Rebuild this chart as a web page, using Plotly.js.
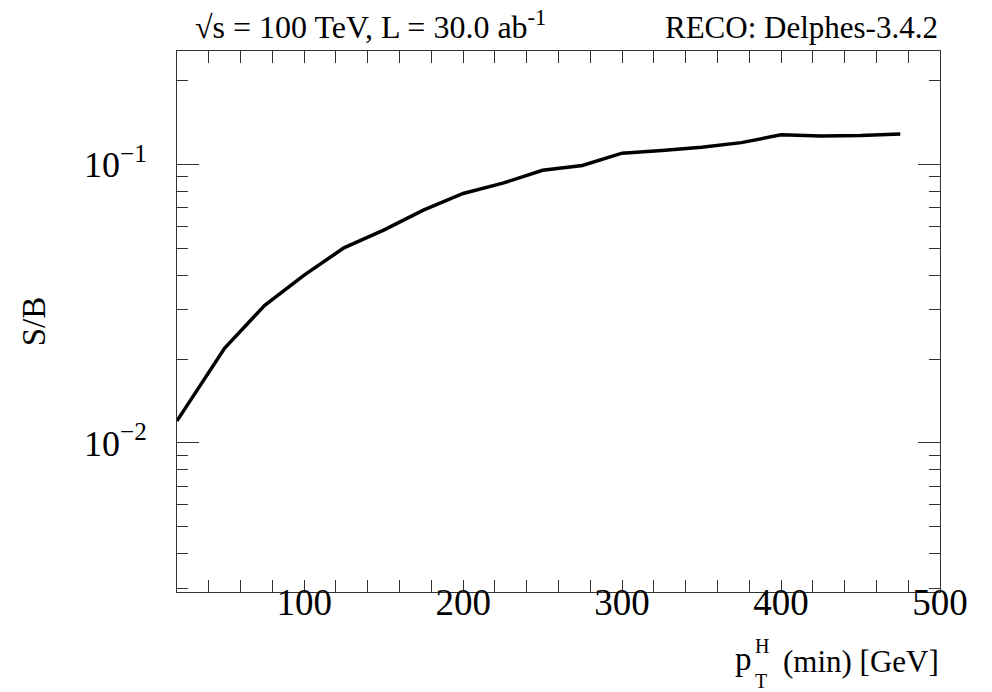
<!DOCTYPE html>
<html><head><meta charset="utf-8">
<script src="https://cdn.plot.ly/plotly-3.0.1.min.js"></script>
<style>html,body{margin:0;padding:0;background:#fff}</style>
</head><body><div id="chart" style="width:992px;height:692px"></div>
<script>
// data
const ptHmin = [20, 50, 75, 100, 125, 150, 175, 200, 225, 250, 275, 300, 325, 350, 375, 400, 425, 450, 475];
const sOverB = [0.0120, 0.0219, 0.0311, 0.0400, 0.0501, 0.0580, 0.0684, 0.0785, 0.0855, 0.0951, 0.0990, 0.1095, 0.1119, 0.1150, 0.1195, 0.1274, 0.1262, 0.1268, 0.1284];
const yTickVals = [0.01, 0.1];
const yTickText = ["10<sup>−2</sup>", "10<sup>−1</sup>"];
const xTickVals = [100, 200, 300, 400, 500];
const xTickText = ["100", "200", "300", "400", "500"];
const topLeftText = "√s = 100 TeV, L = 30.0 ab<sup>-1</sup>";
const topRightText = "RECO: Delphes-3.4.2";
const yTitle = "S/B";

const L = 177, R = 940, T = 51, B = 592, W = 992, H = 692;
const px = v => (v - L) / (R - L);
const py = v => (B - v) / (B - T);
const FONT = "Liberation Serif, Times New Roman, serif";

const yMinor = [];
for (const d of [0.001, 0.01, 0.1]) for (let k = 2; k <= 9; k++) yMinor.push(+(k * d).toPrecision(3));

const trace = {
  x: ptHmin, y: sOverB, type: 'scatter', mode: 'lines',
  line: {color: '#000', width: 3.5}, hoverinfo: 'x+y', showlegend: false
};

const layout = {
  width: W, height: H,
  margin: {l: L, r: W - R, t: T, b: H - B, pad: 0},
  paper_bgcolor: '#fff', plot_bgcolor: '#fff',
  font: {family: FONT, color: '#000'},
  xaxis: {
    type: 'linear', range: [20, 500], tickmode: 'array', tickvals: xTickVals, ticktext: xTickText,
    ticks: 'inside', ticklen: 12, tickwidth: 1, tickcolor: '#333',
    minor: {ticks: 'inside', dtick: 20, tick0: 0, ticklen: 12, tickwidth: 1, tickcolor: '#333', showgrid: false},
    showline: true, linecolor: '#333', linewidth: 1, mirror: 'ticks',
    showgrid: false, zeroline: false,
    tickfont: {family: FONT, size: 37, color: '#000'}, ticklabelstandoff: -22
  },
  yaxis: {
    type: 'log', range: [Math.log10(0.00292), Math.log10(0.2547)],
    tickmode: 'array', tickvals: yTickVals, ticktext: yTickText,
    ticks: 'inside', ticklen: 22, tickwidth: 1, tickcolor: '#333',
    minor: {ticks: 'inside', tickmode: 'array', tickvals: yMinor, ticklen: 11, tickwidth: 1, tickcolor: '#333', showgrid: false},
    showline: true, linecolor: '#333', linewidth: 1, mirror: 'ticks',
    showgrid: false, zeroline: false,
    tickfont: {family: FONT, size: 36, color: '#000'}, ticklabelstandoff: 22,
    title: {text: yTitle, font: {family: FONT, size: 33, color: '#000'}, standoff: 28}
  },
  annotations: [
    {text: topLeftText, xref: 'paper', yref: 'paper', x: px(193), y: py(25), xanchor: 'left', yanchor: 'middle', showarrow: false, font: {family: FONT, size: 32, color: '#000'}},
    {text: topRightText, xref: 'paper', yref: 'paper', x: px(940), y: py(27), xanchor: 'right', yanchor: 'middle', showarrow: false, font: {family: FONT, size: 31, color: '#000'}},
    {text: "(min) [GeV]", xref: 'paper', yref: 'paper', x: px(941), y: py(661), xanchor: 'right', yanchor: 'middle', showarrow: false, font: {family: FONT, size: 31, color: '#000'}},
    {text: "p", xref: 'paper', yref: 'paper', x: px(754), y: py(659), xanchor: 'right', yanchor: 'middle', showarrow: false, font: {family: FONT, size: 33, color: '#000'}},
    {text: "H", xref: 'paper', yref: 'paper', x: px(753), y: py(646), xanchor: 'left', yanchor: 'middle', showarrow: false, font: {family: FONT, size: 20, color: '#000'}},
    {text: "T", xref: 'paper', yref: 'paper', x: px(753), y: py(681), xanchor: 'left', yanchor: 'middle', showarrow: false, font: {family: FONT, size: 20, color: '#000'}}
  ]
};

Plotly.newPlot('chart', [trace], layout, {displayModeBar: false, staticPlot: true});
</script>
</body></html>
